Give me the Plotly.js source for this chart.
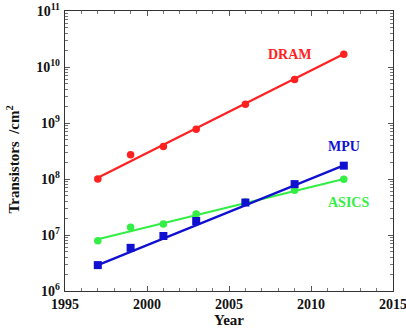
<!DOCTYPE html>
<html>
<head>
<meta charset="utf-8">
<script src="https://cdn.plot.ly/plotly-3.0.1.min.js"></script>
<style>html,body{margin:0;padding:0;background:#fff;}#chart{width:406px;height:333px;}</style>
</head>
<body>
<div id="chart"></div>
<script>
// Transistor density by year
var years = [1997, 1999, 2001, 2003, 2006, 2009, 2012];
var dram = [1.0e8, 2.7e8, 3.8e8, 7.7e8, 2.16e9, 6.0e9, 1.69e10];
var mpu = [2.9e6, 5.9e6, 9.6e6, 1.78e7, 3.8e7, 8.1e7, 1.73e8];
var asics = [7.9e6, 1.37e7, 1.57e7, 2.37e7, 3.9e7, 6.3e7, 9.9e7];

// trend line end points
var fitYears = [1997, 2012];
var dramFit = [1.05e8, 1.7e10];
var mpuFit = [2.9e6, 1.75e8];
var asicsFit = [8.4e6, 1.0e8];

// axis ticks
var xTicks = [1995, 2000, 2005, 2010, 2015];
var xMinor = [1996, 1997, 1998, 1999, 2001, 2002, 2003, 2004, 2006, 2007, 2008, 2009,
              2011, 2012, 2013, 2014];
var yExps = [6, 7, 8, 9, 10, 11];
var yTicks = yExps.map(function (e) { return Math.pow(10, e); });
var yLabels = yExps.map(function (e) { return '10<sup>' + e + '</sup>'; });
var yMinor = [];
yExps.slice(0, -1).forEach(function (e) {
  for (var m = 2; m <= 9; m++) yMinor.push(m * Math.pow(10, e));
});

var red = '#ff2020', blue = '#1010d0', green = '#33ee44';
var serif = 'Liberation Serif, Times New Roman, serif';

function fit(y, c) {
  return {x: fitYears, y: y, mode: 'lines', line: {color: c, width: 2.2}, hoverinfo: 'skip'};
}
function pts(y, c, sym) {
  return {x: years, y: y, mode: 'markers', marker: {color: c, size: sym === 'square' ? 8 : 7.5, symbol: sym}};
}

var data = [
  fit(dramFit, red), pts(dram, red, 'circle'),
  fit(asicsFit, green), pts(asics, green, 'circle'),
  fit(mpuFit, blue), pts(mpu, blue, 'square')
];

var tickFont = {family: serif, size: 14, color: '#111', weight: 'bold'};
var layout = {
  width: 406, height: 333,
  margin: {l: 65, r: 13, t: 11, b: 42},
  paper_bgcolor: '#fff', plot_bgcolor: '#fff',
  showlegend: false,
  xaxis: {
    range: [1995, 2015], tickmode: 'array', tickvals: xTicks, ticktext: xTicks.map(String),
    ticks: 'inside', ticklen: 5, tickwidth: 1, tickcolor: '#555',
    minor: {tickmode: 'array', tickvals: xMinor, ticks: 'inside', ticklen: 3, tickwidth: 1, tickcolor: '#777', showgrid: false},
    showline: true, linecolor: '#333', linewidth: 1.2, mirror: 'ticks',
    showgrid: false, zeroline: false, tickfont: tickFont, ticklabeloverflow: 'allow',
    title: {text: 'Year', font: {family: serif, size: 15, color: '#111', weight: 'bold'}, standoff: 2}
  },
  yaxis: {
    type: 'log', range: [6, 11], tickmode: 'array', tickvals: yTicks, ticktext: yLabels,
    ticks: 'inside', ticklen: 5, tickwidth: 1, tickcolor: '#555',
    minor: {tickmode: 'array', tickvals: yMinor, ticks: 'inside', ticklen: 3, tickwidth: 1, tickcolor: '#777', showgrid: false},
    showline: true, linecolor: '#333', linewidth: 1.2, mirror: 'ticks',
    showgrid: false, zeroline: false, tickfont: tickFont, ticklabelstandoff: 1,
    ticklabeloverflow: 'allow'
  },
  annotations: [
    {text: 'Transistors&nbsp;&nbsp;/cm<sup>2</sup>', textangle: -90, xref: 'paper', yref: 'paper',
     x: -0.158, xanchor: 'center', y: 0.47, yanchor: 'middle', showarrow: false,
     font: {family: serif, size: 15, color: '#111', weight: 'bold'}},
    {text: 'DRAM', x: 2008.7, y: 10.23, xref: 'x', yref: 'y', showarrow: false,
     font: {family: serif, size: 14, color: red, weight: 'bold'}},
    {text: 'MPU', x: 2012.0, y: 8.58, xref: 'x', yref: 'y', showarrow: false,
     font: {family: serif, size: 14, color: blue, weight: 'bold'}},
    {text: 'ASICS', x: 2012.3, y: 7.58, xref: 'x', yref: 'y', showarrow: false,
     font: {family: serif, size: 14, color: green, weight: 'bold'}}
  ]
};

Plotly.newPlot('chart', data, layout, {displayModeBar: false, staticPlot: true});
</script>
</body>
</html>
